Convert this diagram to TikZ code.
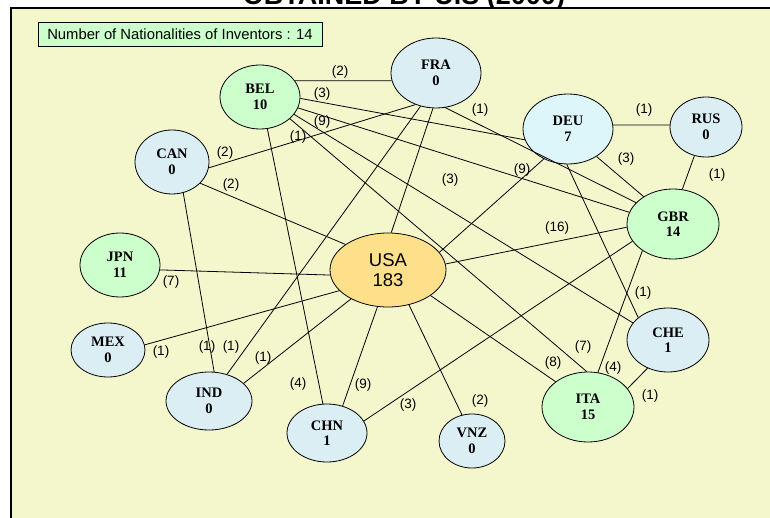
\documentclass[tikz,border=0pt]{standalone}
\usepackage{fontspec}
\setmainfont{Liberation Serif}
\newfontfamily\arialfont{Liberation Sans}
\usetikzlibrary{shapes,shapes.geometric}
\definecolor{panelyellow}{HTML}{F4F7CC}
\definecolor{natgreen}{HTML}{CCFFCC}
\definecolor{natblue}{HTML}{DAEEF3}
\definecolor{natcyan}{HTML}{DDF6FA}
\definecolor{usaorange}{HTML}{FFE08A}

\begin{document}
\begin{tikzpicture}[x=1pt,y=-1pt]
	\tikzstyle{cnode}=[ellipse, draw, line width=0.8pt, inner sep=0pt, align=center, font=\fontsize{14.5}{15.5}\selectfont\bfseries]
	\tikzstyle{gnode}=[cnode, fill=natgreen]
	\tikzstyle{bnode}=[cnode, fill=natblue]
	\tikzstyle{lbl}=[font=\arialfont\fontsize{13.5}{15}\selectfont, inner sep=0pt]
	\tikzstyle{link}=[line width=0.8pt]
	\useasboundingbox (0,0) rectangle (770,518);
	\clip (0,0) rectangle (770,518);
	\node[font=\arialfont\bfseries\fontsize{27}{30}\selectfont, anchor=base, inner sep=0pt] (title) at (404,4.5) {OBTAINED BY U.S (2000)};
	\draw[line width=2pt, fill=panelyellow] (11,7.7) rectangle (800,540);
	\node[draw, fill=natgreen, line width=0.8pt, minimum width=284, minimum height=24, font=\arialfont\fontsize{14.8}{16}\selectfont] (legend) at (180,34) {Number of Nationalities of Inventors : 14};
	% countries
	\node[gnode, minimum width=80, minimum height=64] (bel) at (260,97) {BEL\\10};
	\node[bnode, minimum width=74, minimum height=64] (can) at (172,162) {CAN\\0};
	\node[bnode, minimum width=90, minimum height=70] (fra) at (436,73) {FRA\\0};
	\node[cnode, fill=natcyan, minimum width=90, minimum height=70] (deu) at (568,129) {DEU\\7};
	\node[bnode, minimum width=72, minimum height=60] (rus) at (706,127) {RUS\\0};
	\node[gnode, minimum width=92, minimum height=70] (gbr) at (673,224) {GBR\\14};
	\node[bnode, minimum width=82, minimum height=64] (che) at (668,340) {CHE\\1};
	\node[gnode, minimum width=92, minimum height=70] (ita) at (588,407) {ITA\\15};
	\node[bnode, minimum width=66, minimum height=54] (vnz) at (472,441) {VNZ\\0};
	\node[bnode, minimum width=80, minimum height=58] (chn) at (327,433) {CHN\\1};
	\node[bnode, minimum width=86, minimum height=58] (ind) at (209,401) {IND\\0};
	\node[bnode, minimum width=74, minimum height=54] (mex) at (108,350) {MEX\\0};
	\node[gnode, minimum width=80, minimum height=64] (jpn) at (120,265) {JPN\\11};
	\node[cnode, fill=usaorange, font=\arialfont\fontsize{18.5}{20.5}\selectfont, minimum width=116, minimum height=74] (usa) at (388,270) {USA\\183};
	% links
	\draw[link] (bel.25) -- (fra.190);
	\draw[link] (bel.-2) -- (deu.194);
	\draw[link] (bel.-16) -- (gbr.165);
	\draw[link] (bel.-27) -- (che.154);
	\draw[link] (bel.-36) -- (ita.92);
	\draw[link] (bel.-77) -- (chn.98);
	\draw[link] (can.-9) -- (fra.237);
	\draw[link] (can.-37) -- (usa.149);
	\draw[link] (can.-70) -- (ind.80);
	\draw[link] (fra.245) -- (ind.56);
	\draw[link] (fra.265) -- (usa.85);
	\draw[link] (fra.285) -- (gbr.150);
	\draw[link] (deu.5) -- (rus.177);
	\draw[link] (deu.-44) -- (gbr.137);
	\draw[link] (deu.268) -- (che.143);
	\draw[link] (deu.231) -- (usa.19);
	\draw[link] (rus.248) -- (gbr.75);
	\draw[link] (gbr.184) -- (usa.6);
	\draw[link] (gbr.203) -- (chn.18);
	\draw[link] (gbr.221) -- (ita.74);
	\draw[link] (ita.25) -- (che.234);
	\draw[link] (jpn.-7) -- (usa.185);
	\draw[link] (mex.8) -- (usa.203);
	\draw[link] (ind.27) -- (usa.218);
	\draw[link] (chn.60) -- (usa.254);
	\draw[link] (vnz.111) -- (usa.301);
	\draw[link] (usa.329) -- (ita.142);
	% link labels
	\node[lbl] (l1) at (340,72) {(2)};
	\node[lbl] (l2) at (322,94) {(3)};
	\node[lbl] (l3) at (322,122) {(9)};
	\node[lbl] (l4) at (298,137) {(1)};
	\node[lbl] (l5) at (225,153) {(2)};
	\node[lbl] (l6) at (231,185) {(2)};
	\node[lbl] (l7) at (171,282) {(7)};
	\node[lbl] (l8) at (161,352) {(1)};
	\node[lbl] (l9) at (207,347) {(1)};
	\node[lbl] (l10) at (231,347) {(1)};
	\node[lbl] (l11) at (263,358) {(1)};
	\node[lbl] (l12) at (298,384) {(4)};
	\node[lbl] (l13) at (363,385) {(9)};
	\node[lbl] (l14) at (408,405) {(3)};
	\node[lbl] (l15) at (480,401) {(2)};
	\node[lbl] (l16) at (553,363) {(8)};
	\node[lbl] (l17) at (583,347) {(7)};
	\node[lbl] (l18) at (613,368) {(4)};
	\node[lbl] (l19) at (650,396) {(1)};
	\node[lbl] (l20) at (643,293) {(1)};
	\node[lbl] (l21) at (557,228) {(16)};
	\node[lbl] (l22) at (522,170) {(9)};
	\node[lbl] (l23) at (450,180) {(3)};
	\node[lbl] (l24) at (480,110) {(1)};
	\node[lbl] (l25) at (644,110) {(1)};
	\node[lbl] (l26) at (626,159) {(3)};
	\node[lbl] (l27) at (717,175) {(1)};
\end{tikzpicture}
\end{document}
